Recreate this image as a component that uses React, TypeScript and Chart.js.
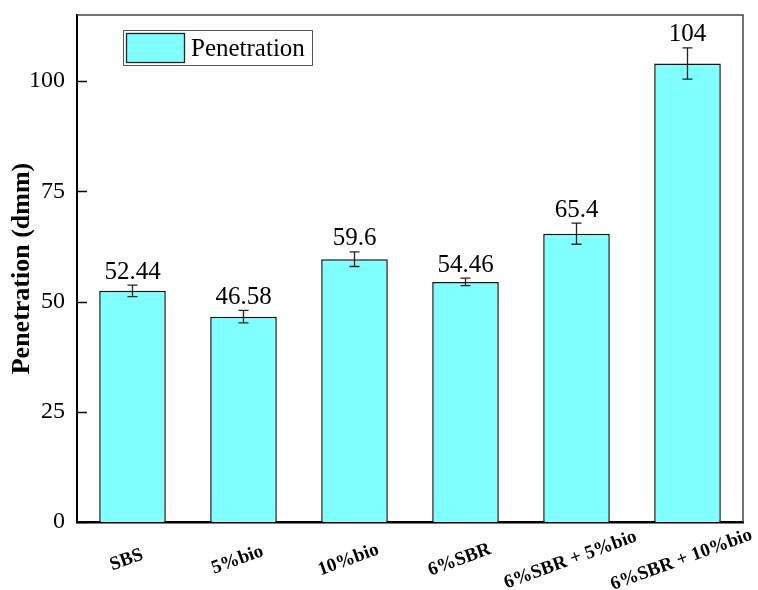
import React, { useEffect, useRef } from "react";
import { Chart, registerables } from "chart.js";

Chart.register(...registerables);

const categories = ["SBS", "5%bio", "10%bio", "6%SBR", "6%SBR + 5%bio", "6%SBR + 10%bio"];
const penetration = [52.44, 46.58, 59.6, 54.46, 65.4, 104];
const errors = [1.3, 1.4, 1.65, 0.85, 2.4, 3.55];
const valueLabels = ["52.44", "46.58", "59.6", "54.46", "65.4", "104"];
const yTicks = [0, 25, 50, 75, 100];

const SERIF = "'Times New Roman', 'Liberation Serif', serif";
const FILL = "#80ffff";

const decorPlugin = {
  id: "decor",
  afterDatasetsDraw(chart: any) {
    const { ctx, chartArea, scales } = chart;
    const x = scales.x;
    const y = scales.y;
    ctx.save();

    // frame: thin top and right edges
    ctx.strokeStyle = "#444";
    ctx.lineWidth = 1.5;
    ctx.beginPath();
    ctx.moveTo(chartArea.left, chartArea.top);
    ctx.lineTo(chartArea.right, chartArea.top);
    ctx.lineTo(chartArea.right, chartArea.bottom);
    ctx.stroke();

    // inward ticks on the y axis
    ctx.strokeStyle = "#000";
    ctx.lineWidth = 1.5;
    yTicks.forEach((t) => {
      const py = Math.round(y.getPixelForValue(t)) + 0.5;
      ctx.beginPath();
      ctx.moveTo(chartArea.left, py);
      ctx.lineTo(chartArea.left + 10, py);
      ctx.stroke();
    });

    // error bars and value labels
    penetration.forEach((v, i) => {
      const px = x.getPixelForValue(i);
      const top = y.getPixelForValue(v + errors[i]);
      const bot = y.getPixelForValue(v - errors[i]);
      ctx.strokeStyle = "#222";
      ctx.lineWidth = 1.3;
      ctx.beginPath();
      ctx.moveTo(px, top);
      ctx.lineTo(px, bot);
      ctx.moveTo(px - 5, top);
      ctx.lineTo(px + 5, top);
      ctx.moveTo(px - 5, bot);
      ctx.lineTo(px + 5, bot);
      ctx.stroke();

      ctx.fillStyle = "#000";
      ctx.font = `25px ${SERIF}`;
      ctx.textAlign = "center";
      ctx.textBaseline = "alphabetic";
      ctx.fillText(valueLabels[i], px, top - 6.5);
    });

    // rotated category labels
    ctx.font = `bold 19px ${SERIF}`;
    ctx.fillStyle = "#000";
    ctx.textAlign = "center";
    ctx.textBaseline = "middle";
    categories.forEach((c, i) => {
      const px = x.getPixelForValue(i);
      ctx.save();
      ctx.translate(px - 6, chartArea.bottom + 38);
      ctx.rotate((-20 * Math.PI) / 180);
      ctx.fillText(c, 0, 0);
      ctx.restore();
    });

    // legend box
    const ds = chart.data.datasets[0];
    const lx = chartArea.left + 46;
    const ly = chartArea.top + 15;
    ctx.strokeStyle = "#555";
    ctx.lineWidth = 1;
    ctx.fillStyle = "#fff";
    ctx.fillRect(lx, ly, 190, 36);
    ctx.strokeRect(lx + 0.5, ly + 0.5, 189, 35);
    ctx.fillStyle = ds.backgroundColor;
    ctx.fillRect(lx + 3.5, ly + 3.5, 58, 29);
    ctx.strokeStyle = "#222";
    ctx.lineWidth = 1.3;
    ctx.strokeRect(lx + 3.5, ly + 3.5, 58, 29);
    ctx.fillStyle = "#000";
    ctx.font = `25px ${SERIF}`;
    ctx.textAlign = "left";
    ctx.textBaseline = "middle";
    ctx.fillText(ds.label, lx + 68, ly + 19);

    ctx.restore();
  },
};

export default function App() {
  const canvasRef = useRef<HTMLCanvasElement | null>(null);

  useEffect(() => {
    document.body.style.margin = "0";
    const canvas = canvasRef.current;
    if (!canvas) return;
    const chart = new Chart(canvas, {
      type: "bar",
      data: {
        labels: categories,
        datasets: [
          {
            label: "Penetration",
            data: penetration,
            backgroundColor: FILL,
            borderColor: "#111",
            borderWidth: 1.5,
            barPercentage: 0.6,
            categoryPercentage: 1.0,
          },
        ],
      },
      options: {
        responsive: true,
        maintainAspectRatio: false,
        animation: false,
        layout: { padding: { left: 0, top: 15, right: 15, bottom: 0 } },
        plugins: {
          legend: { display: false },
          tooltip: { enabled: false },
        },
        scales: {
          x: {
            grid: { display: false },
            border: { display: true, color: "#000", width: 2.5 },
            ticks: { display: false },
            afterFit: (scale: any) => {
              scale.height = 68;
              scale.paddingLeft = 0;
              scale.paddingRight = 0;
            },
          },
          y: {
            min: 0,
            max: 115,
            afterBuildTicks: (scale: any) => {
              scale.ticks = yTicks.map((v) => ({ value: v }));
            },
            grid: { display: false, drawTicks: false },
            border: { display: true, color: "#000", width: 2 },
            ticks: {
              padding: 12,
              color: "#000",
              font: { family: SERIF, size: 24 },
            },
            title: {
              display: true,
              text: "Penetration (dmm)",
              color: "#000",
              font: { family: SERIF, size: 26, weight: "bold" },
              padding: { top: 7, bottom: 0 },
            },
            afterFit: (scale: any) => {
              scale.width = 77;
              scale.paddingTop = 0;
              scale.paddingBottom = 0;
            },
          },
        },
      },
      plugins: [decorPlugin],
    });
    return () => chart.destroy();
  }, []);

  return (
    <div style={{ position: "relative", width: 758, height: 590 }}>
      <canvas ref={canvasRef} />
    </div>
  );
}
